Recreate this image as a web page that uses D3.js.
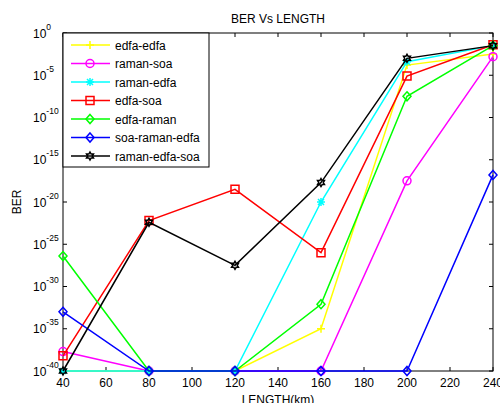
<!DOCTYPE html>
<html lang="en">
<head>
    <meta charset="UTF-8">
    <title>BER Vs LENGTH</title>
    <script src="https://d3js.org/d3.v7.min.js"></script>
    <style>
        body {
            margin: 0;
            background-color: #fff;
            font-family: Arial, "Liberation Sans", sans-serif;
        }
        svg text {
            fill: #000;
        }
    </style>
</head>
<body>
    <div id="chart"></div>

    <script>
        // data
        const lengths = [40, 80, 120, 160, 200, 240];
        const xTicks = [40, 60, 80, 100, 120, 140, 160, 180, 200, 220, 240];
        const yTickExps = [0, -5, -10, -15, -20, -25, -30, -35, -40];

        const edfaEdfa     = [1e-40, 1e-40, 1e-40, 1e-35, 1.6e-4, 3.2e-3];
        const ramanSoa     = [2e-38, 1e-40, 1e-40, 1e-40, 3.2e-18, 1.6e-3];
        const ramanEdfa    = [1e-40, 1e-40, 1e-40, 1e-20, 4e-4, 3.2e-2];
        const edfaSoa      = [6.3e-39, 6.3e-23, 3.2e-19, 1e-26, 8e-6, 4e-2];
        const edfaRaman    = [4e-27, 1e-40, 1e-40, 8e-33, 3.2e-8, 3.2e-2];
        const soaRamanEdfa = [1e-33, 1e-40, 1e-40, 1e-40, 1e-40, 1.6e-17];
        const ramanEdfaSoa = [1e-40, 4e-23, 3.2e-28, 2e-18, 1e-3, 3.2e-2];

        const seriesNames = ["edfa-edfa", "raman-soa", "raman-edfa", "edfa-soa",
                             "edfa-raman", "soa-raman-edfa", "raman-edfa-soa"];
        const seriesValues = [edfaEdfa, ramanSoa, ramanEdfa, edfaSoa,
                              edfaRaman, soaRamanEdfa, ramanEdfaSoa];
        const seriesColors = ["#ffff00", "#ff00ff", "#00ffff", "#ff0000",
                              "#00ff00", "#0000ff", "#000000"];
        const seriesMarkers = ["plus", "circle", "asterisk", "square",
                               "diamond", "diamond", "hexagram"];

        const width = 500, height = 403;
        const margin = {left: 63, right: 7, top: 33, bottom: 32};
        const plotW = width - margin.left - margin.right;
        const plotH = height - margin.top - margin.bottom;

        const svg = d3.select("#chart")
            .append("svg")
            .attr("width", width)
            .attr("height", height);

        const x = d3.scaleLinear().domain([40, 240]).range([margin.left, margin.left + plotW]);
        const y = d3.scaleLog().domain([1e-40, 1]).range([margin.top + plotH, margin.top]);

        function markerPath(type) {
            const p = d3.path();
            if (type === "plus") {
                p.moveTo(-4, 0); p.lineTo(4, 0);
                p.moveTo(0, -4); p.lineTo(0, 4);
            } else if (type === "asterisk") {
                p.moveTo(-4, 0); p.lineTo(4, 0);
                p.moveTo(0, -4); p.lineTo(0, 4);
                p.moveTo(-3, -3); p.lineTo(3, 3);
                p.moveTo(-3, 3); p.lineTo(3, -3);
            } else if (type === "circle") {
                p.arc(0, 0, 4, 0, 2 * Math.PI);
            } else if (type === "square") {
                p.rect(-4, -4, 8, 8);
            } else if (type === "diamond") {
                p.moveTo(0, -4.5); p.lineTo(4, 0); p.lineTo(0, 4.5); p.lineTo(-4, 0); p.closePath();
            } else if (type === "hexagram") {
                const R = 4, r = 2.3;
                for (let i = 0; i < 12; i++) {
                    const a = -Math.PI / 2 + i * Math.PI / 6;
                    const rr = i % 2 === 0 ? R : r;
                    if (i === 0) p.moveTo(rr * Math.cos(a), rr * Math.sin(a));
                    else p.lineTo(rr * Math.cos(a), rr * Math.sin(a));
                }
                p.closePath();
            }
            return p.toString();
        }

        // axes box
        svg.append("rect")
            .attr("x", margin.left).attr("y", margin.top)
            .attr("width", plotW).attr("height", plotH)
            .attr("fill", "#fff").attr("stroke", "#000").attr("stroke-width", 1);

        // x ticks (inward, bottom and top)
        const tickLen = 4;
        const xt = svg.append("g");
        xTicks.forEach(t => {
            xt.append("line").attr("x1", x(t)).attr("x2", x(t))
                .attr("y1", margin.top + plotH).attr("y2", margin.top + plotH - tickLen)
                .attr("stroke", "#000");
            xt.append("line").attr("x1", x(t)).attr("x2", x(t))
                .attr("y1", margin.top).attr("y2", margin.top + tickLen)
                .attr("stroke", "#000");
            xt.append("text")
                .attr("x", x(t)).attr("y", margin.top + plotH + 16)
                .attr("text-anchor", "middle")
                .attr("font-size", 12)
                .text(t);
        });

        // y ticks with 10^n labels
        const yt = svg.append("g");
        yTickExps.forEach(e => {
            const yy = y(Math.pow(10, e));
            yt.append("line").attr("x1", margin.left).attr("x2", margin.left + tickLen)
                .attr("y1", yy).attr("y2", yy).attr("stroke", "#000");
            yt.append("line").attr("x1", margin.left + plotW).attr("x2", margin.left + plotW - tickLen)
                .attr("y1", yy).attr("y2", yy).attr("stroke", "#000");
            const lbl = yt.append("text")
                .attr("x", 33).attr("y", yy + 4.5)
                .attr("font-size", 12);
            lbl.append("tspan").text("10");
            lbl.append("tspan").attr("dy", -8).attr("font-size", 8.5).text(e);
        });

        // series
        const plot = svg.append("g");
        seriesValues.forEach((vals, i) => {
            const pts = lengths.map((l, j) => [x(l), y(vals[j])]);
            plot.append("path")
                .attr("d", d3.line()(pts))
                .attr("fill", "none")
                .attr("stroke", seriesColors[i])
                .attr("stroke-width", 1.5);
            plot.selectAll(null)
                .data(pts)
                .enter().append("path")
                .attr("transform", d => `translate(${d[0]},${d[1]})`)
                .attr("d", markerPath(seriesMarkers[i]))
                .attr("fill", "none")
                .attr("stroke", seriesColors[i])
                .attr("stroke-width", 1.5);
        });

        // legend
        const legend = svg.append("g");
        legend.append("rect")
            .attr("x", margin.left).attr("y", margin.top)
            .attr("width", 146).attr("height", 134)
            .attr("fill", "#fff").attr("stroke", "#000").attr("stroke-width", 1);
        seriesNames.forEach((name, i) => {
            const ly = 45 + i * 18.5;
            legend.append("line")
                .attr("x1", 71).attr("x2", 110)
                .attr("y1", ly).attr("y2", ly)
                .attr("stroke", seriesColors[i]).attr("stroke-width", 1.5);
            legend.append("path")
                .attr("transform", `translate(90,${ly})`)
                .attr("d", markerPath(seriesMarkers[i]))
                .attr("fill", "none")
                .attr("stroke", seriesColors[i])
                .attr("stroke-width", 1.5);
            legend.append("text")
                .attr("x", 115).attr("y", ly + 4.5)
                .attr("font-size", 12)
                .text(name);
        });

        // titles
        svg.append("text")
            .attr("x", margin.left + plotW / 2).attr("y", 23)
            .attr("text-anchor", "middle").attr("font-size", 12)
            .text("BER Vs LENGTH");
        svg.append("text")
            .attr("x", margin.left + plotW / 2).attr("y", 404)
            .attr("text-anchor", "middle").attr("font-size", 12)
            .text("LENGTH(km)");
        svg.append("text")
            .attr("transform", "translate(21,202) rotate(-90)")
            .attr("text-anchor", "middle").attr("font-size", 12)
            .text("BER");
    </script>
</body>
</html>
